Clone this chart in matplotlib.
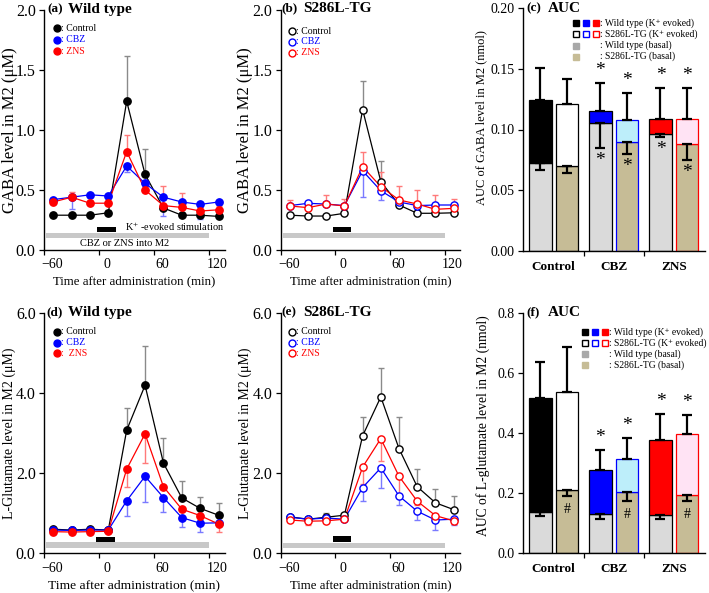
import matplotlib
matplotlib.use("Agg")
import matplotlib.pyplot as plt
from matplotlib.transforms import ScaledTranslation
from matplotlib.patches import Rectangle
import numpy as np

plt.rcParams['font.family'] = ['Liberation Serif', 'DejaVu Serif']
plt.rcParams['mathtext.fontset'] = 'stix'

W, H = 709, 593

# ---------------- data ----------------
times = [-50, -30, -10, 10, 30, 50, 70, 90, 110, 130]
series_names = ["Control", "CBZ", "ZNS"]

# (a) GABA, wild type
gaba_wt_ctrl = [0.29, 0.29, 0.29, 0.31, 1.24, 0.63, 0.35, 0.29, 0.29, 0.28]
gaba_wt_ctrl_err = [0.02, 0.02, 0.02, 0.02, 0.38, 0.21, 0.03, 0.02, 0.02, 0.02]
gaba_wt_cbz = [0.42, 0.44, 0.46, 0.45, 0.70, 0.555, 0.44, 0.40, 0.38, 0.40]
gaba_wt_cbz_err = [0.03, 0.10, 0.02, 0.02, 0.05, 0.03, 0.16, 0.03, 0.12, 0.02]
gaba_wt_zns = [0.40, 0.44, 0.39, 0.39, 0.82, 0.50, 0.37, 0.355, 0.325, 0.335]
gaba_wt_zns_err = [0.02, 0.04, 0.03, 0.02, 0.14, 0.02, 0.16, 0.12, 0.03, 0.03]

# (b) GABA, S286L-TG
gaba_tg_ctrl = [0.29, 0.283, 0.283, 0.306, 1.17, 0.57, 0.375, 0.306, 0.306, 0.31]
gaba_tg_ctrl_err = [0.02, 0.02, 0.02, 0.02, 0.24, 0.17, 0.02, 0.02, 0.02, 0.02]
gaba_tg_cbz = [0.37, 0.389, 0.383, 0.37, 0.66, 0.494, 0.40, 0.37, 0.375, 0.375]
gaba_tg_cbz_err = [0.02, 0.02, 0.02, 0.02, 0.22, 0.08, 0.03, 0.03, 0.03, 0.02]
gaba_tg_zns = [0.367, 0.353, 0.383, 0.367, 0.694, 0.528, 0.417, 0.383, 0.339, 0.347]
gaba_tg_zns_err = [0.05, 0.03, 0.075, 0.06, 0.12, 0.125, 0.12, 0.12, 0.12, 0.08]

# (d) L-glutamate, wild type
glu_wt_ctrl = [0.60, 0.58, 0.60, 0.58, 3.07, 4.19, 2.25, 1.38, 1.12, 0.95]
glu_wt_ctrl_err = [0.03, 0.03, 0.03, 0.03, 0.55, 0.98, 0.63, 0.42, 0.29, 0.31]
glu_wt_cbz = [0.58, 0.57, 0.58, 0.58, 1.31, 1.92, 1.39, 0.89, 0.75, 0.76]
glu_wt_cbz_err = [0.03, 0.03, 0.03, 0.03, 0.37, 0.65, 0.36, 0.23, 0.21, 0.05]
glu_wt_zns = [0.54, 0.53, 0.54, 0.55, 2.10, 2.98, 1.66, 1.10, 0.94, 0.73]
glu_wt_zns_err = [0.03, 0.03, 0.03, 0.03, 0.44, 0.73, 0.05, 0.05, 0.05, 0.19]

# (e) L-glutamate, S286L-TG
glu_tg_ctrl = [0.91, 0.85, 0.90, 0.95, 2.93, 3.90, 2.61, 1.66, 1.26, 1.09]
glu_tg_ctrl_err = [0.03, 0.03, 0.10, 0.03, 0.47, 0.73, 0.80, 0.44, 0.34, 0.34]
glu_tg_cbz = [0.90, 0.85, 0.88, 0.85, 1.64, 2.13, 1.43, 1.05, 0.83, 0.85]
glu_tg_cbz_err = [0.03, 0.03, 0.03, 0.03, 0.34, 0.51, 0.23, 0.22, 0.25, 0.15]
glu_tg_zns = [0.83, 0.80, 0.81, 0.85, 2.15, 2.86, 1.92, 1.30, 0.94, 0.81]
glu_tg_zns_err = [0.05, 0.10, 0.05, 0.03, 0.42, 0.55, 0.50, 0.10, 0.05, 0.08]

# AUC categories
auc_groups = ["Control", "CBZ", "ZNS"]

# (c) AUC GABA
gaba_auc_wt_total = [0.1245, 0.1155, 0.1084]
gaba_auc_wt_total_err = [0.0265, 0.0230, 0.0260]
gaba_auc_wt_basal = [0.0721, 0.1056, 0.0967]
gaba_auc_wt_basal_err = [0.0055, 0.0211, 0.0028]
gaba_auc_tg_total = [0.1210, 0.1075, 0.1084]
gaba_auc_tg_total_err = [0.0205, 0.0222, 0.0260]
gaba_auc_tg_basal = [0.0699, 0.0900, 0.0880]
gaba_auc_tg_basal_err = [0.0053, 0.0104, 0.0131]
gaba_star_top = [[False, False], [True, True], [True, True]]
gaba_star_basal = [[False, False], [True, True], [True, True]]
gaba_hash_basal = [[False, False], [False, False], [False, False]]

# (f) AUC L-glutamate
glu_auc_wt_total = [0.515, 0.277, 0.377]
glu_auc_wt_total_err = [0.122, 0.066, 0.085]
glu_auc_wt_basal = [0.1385, 0.131, 0.127]
glu_auc_wt_basal_err = [0.0135, 0.016, 0.012]
glu_auc_tg_total = [0.535, 0.313, 0.397]
glu_auc_tg_total_err = [0.150, 0.069, 0.063]
glu_auc_tg_basal = [0.209, 0.203, 0.195]
glu_auc_tg_basal_err = [0.017, 0.028, 0.020]
glu_star_top = [[False, False], [True, True], [True, True]]
glu_star_basal = [[False, False], [False, False], [False, False]]
glu_hash_basal = [[False, True], [False, True], [False, True]]

# ---------------- style ----------------
line_colors = ["black", "#0000ff", "#ff0000"]
err_colors = ["#8a8a8a", "#7a7aff", "#ff7a7a"]
wt_evoked_face = ["black", "#0000ff", "#ff0000"]
tg_evoked_face = ["white", "#bdeefa", "#ffe3f4"]
tg_edge = ["black", "#0000ff", "#ff0000"]
wt_basal_face = "#dadada"
tg_basal_face = "#c6bc96"

fig = plt.figure(figsize=(W / 100, H / 100), dpi=100)


def px_axes(left, top, right, bottom):
    return fig.add_axes([left / W, 1 - bottom / H, (right - left) / W, (bottom - top) / H])


def fx(x):
    return x / W


def fy(y):
    return 1 - y / H


def style_axes(ax, xfs=10, yfs=10):
    for s in ["top", "right"]:
        ax.spines[s].set_visible(False)
    for s in ["left", "bottom"]:
        ax.spines[s].set_linewidth(1.0)
    ax.tick_params(direction="out", length=3.5, width=0.9, pad=2.5)
    ax.tick_params(axis="x", labelsize=xfs)
    ax.tick_params(axis="y", labelsize=yfs)


def title(xl, yc, letter, text):
    fig.text(fx(xl), fy(yc), letter, fontsize=9.5, fontweight="bold", ha="left", va="center")
    fig.text(fx(xl + 21), fy(yc), text, fontsize=11, fontweight="bold", ha="left", va="center")


def time_panel(ax, data, errs, dirs, filled, ylim, yticks, yfmt, ylabel, ylabel_x, ylabel_fs,
               xlabel_fs, bar_k, bar_drug, leg_px, leg_labels):
    style_axes(ax, xfs=10, yfs=11.5)
    for i, (y, e, d) in enumerate(zip(data, errs, dirs)):
        y = np.asarray(y)
        e = np.asarray(e)
        lower = e if d == "down" else np.zeros_like(e)
        upper = e if d == "up" else np.zeros_like(e)
        ax.errorbar(times, y, yerr=[lower, upper], fmt="none", ecolor=err_colors[i],
                    elinewidth=1.0, capsize=2.5, capthick=1.0, zorder=2)
    for i, y in enumerate(data):
        mfc = line_colors[i] if filled else "white"
        ax.plot(times, y, "-", color=line_colors[i], lw=0.9, zorder=3 + i)
        ax.plot(times, y, "o", ms=5.3 if filled else 5.2, mfc=mfc, mec=line_colors[i],
                mew=1.0, zorder=6 + i)
    # stimulation / drug bars
    ax.add_patch(Rectangle((bar_drug[0], bar_drug[2]), bar_drug[1] - bar_drug[0],
                           bar_drug[3] - bar_drug[2], color="#c8c8c8", lw=0, zorder=1))
    ax.add_patch(Rectangle((bar_k[0], bar_k[2]), bar_k[1] - bar_k[0],
                           bar_k[3] - bar_k[2], color="black", lw=0, zorder=1))
    ax.set_xlim(-60, 137)
    ax.set_ylim(*ylim)
    ax.set_xticks([-60, 0, 60, 120])
    ax.set_xticklabels(["\u221260", "0", "60", "120"])
    for lab in ax.get_xticklabels():
        lab.set_transform(lab.get_transform() + ScaledTranslation(8 / 100, 0, fig.dpi_scale_trans))
    ax.set_yticks(yticks)
    ax.set_yticklabels([yfmt.format(v) for v in yticks])
    ax.set_xlabel("Time after administration (min)", fontsize=xlabel_fs, labelpad=3)
    ax.set_ylabel(ylabel, fontsize=ylabel_fs)
    ax.yaxis.set_label_coords(ylabel_x, 0.5)
    ax.yaxis.label.set_verticalalignment("center")
    # legend
    lx, ly0, dy = leg_px
    for i, lab in enumerate(leg_labels):
        yy = ly0 + i * dy
        mfc = line_colors[i] if filled else "white"
        fig.lines.append(plt.Line2D([fx(lx)], [fy(yy)], marker="o", ms=5.0, mfc=mfc,
                                    mec=line_colors[i], mew=1.0, transform=fig.transFigure))
        fig.text(fx(lx + 4), fy(yy), lab, color=line_colors[i], fontsize=7,
                 ha="left", va="center")


def auc_panel(ax, wt_tot, wt_tot_err, wt_bas, wt_bas_err, tg_tot, tg_tot_err, tg_bas, tg_bas_err,
              star_top, star_bas, hash_bas, ylim, yticks, yfmt, ylabel, ylabel_xy, ylabel_fs, leg_px):
    style_axes(ax, xfs=10, yfs=10)
    x = np.arange(len(auc_groups))
    off = 0.2225
    w = 0.378
    for g in range(len(auc_groups)):
        # WT
        xw = x[g] - off
        ax.bar(xw, wt_bas[g], w, color=wt_basal_face, edgecolor="black", lw=0.9, zorder=2)
        ax.bar(xw, wt_tot[g] - wt_bas[g], w, bottom=wt_bas[g], color=wt_evoked_face[g],
               edgecolor="black", lw=0.9, zorder=2)
        # TG
        xt = x[g] + off
        ax.bar(xt, tg_bas[g], w, color=tg_basal_face, edgecolor=tg_edge[g], lw=0.9, zorder=2)
        ax.bar(xt, tg_tot[g] - tg_bas[g], w, bottom=tg_bas[g], color=tg_evoked_face[g],
               edgecolor=tg_edge[g], lw=0.9, zorder=2)
        for j, (xx, tot, te, bas, be) in enumerate([(xw, wt_tot[g], wt_tot_err[g], wt_bas[g], wt_bas_err[g]),
                                                     (xt, tg_tot[g], tg_tot_err[g], tg_bas[g], tg_bas_err[g])]):
            ax.errorbar([xx], [tot], yerr=[[0], [te]], fmt="none", ecolor="black", elinewidth=1.6,
                        capsize=3.5, capthick=1.6, zorder=4)
            ax.errorbar([xx], [bas], yerr=[[be], [0]], fmt="none", ecolor="black", elinewidth=1.6,
                        capsize=3.5, capthick=1.6, zorder=4)
            if star_top[g][j]:
                ax.annotate("*", (xx, tot + te), xytext=(0, 3), textcoords="offset points",
                            ha="center", va="bottom", fontsize=14, zorder=5)
            if star_bas[g][j]:
                ax.annotate("*", (xx, bas - be), xytext=(0, -3), textcoords="offset points",
                            ha="center", va="top", fontsize=14, zorder=5)
            if hash_bas[g][j]:
                ax.annotate("#", (xx, bas - be), xytext=(0, -5), textcoords="offset points",
                            ha="center", va="top", fontsize=10, zorder=5)
    ax.set_xlim(-0.517, 2.52)
    ax.set_ylim(*ylim)
    ax.set_xticks([0.5, 1.5])
    ax.set_xticklabels(["", ""])
    for g, name in enumerate(auc_groups):
        ax.text(x[g], -0.065, name, transform=ax.get_xaxis_transform(), ha="center", va="center",
                fontsize=9.5, fontweight="bold")
    ax.set_yticks(yticks)
    ax.set_yticklabels([yfmt.format(v) for v in yticks])
    ax.set_ylabel(ylabel, fontsize=ylabel_fs)
    ax.yaxis.set_label_coords(*ylabel_xy)
    ax.yaxis.label.set_verticalalignment("center")
    # legend
    lx, ly0, dy, tx = leg_px
    rows = [(": Wild type (K\u207a evoked)", [(c, c) for c in wt_evoked_face]),
            (": S286L-TG (K\u207a evoked)", [("white", c) for c in tg_edge]),
            (": Wild type (basal)", [("#a8a8a8", "#a8a8a8")]),
            (": S286L-TG (basal)", [(tg_basal_face, tg_basal_face)])]
    for r, (lab, sq) in enumerate(rows):
        yy = ly0 + r * dy
        for k, (fc, ec) in enumerate(sq):
            fig.lines.append(plt.Line2D([fx(lx + k * 9.8)], [fy(yy)], marker="s", ms=4.3, mfc=fc,
                                        mec=ec, mew=1.0, transform=fig.transFigure))
        fig.text(fx(tx), fy(yy), lab, fontsize=6.9, ha="left", va="center")


# ---------------- panels ----------------
axa = px_axes(44, 10, 225, 250)
time_panel(axa, [gaba_wt_ctrl, gaba_wt_cbz, gaba_wt_zns],
           [gaba_wt_ctrl_err, gaba_wt_cbz_err, gaba_wt_zns_err], ["up", "down", "up"], True,
           (0, 2.0), [0.0, 0.5, 1.0, 1.5, 2.0], "{:.1f}", "GABA level in M2 (\u03bcM)", -0.19, 12,
           9.3, (-2, 18, 0.147, 0.194), (-58, 120, 0.097, 0.139), (56.7, 28.3, 11.4),
           [": Control", ": CBZ", ": ZNS"])
axa.text(28, 0.19, "K$^{+}$ -evoked stimulation", fontsize=7.4, ha="left", va="center")
axa.text(-21, 0.05, "CBZ or ZNS into M2", fontsize=7.5, ha="left", va="center")
title(47, 9, "(a)", "Wild type")

axb = px_axes(280.7, 10, 460, 250)
time_panel(axb, [gaba_tg_ctrl, gaba_tg_cbz, gaba_tg_zns],
           [gaba_tg_ctrl_err, gaba_tg_cbz_err, gaba_tg_zns_err], ["up", "down", "up"], False,
           (0, 2.0), [0.0, 0.5, 1.0, 1.5, 2.0], "{:.1f}", "GABA level in M2 (\u03bcM)", -0.2, 12,
           9.2, (-3, 17, 0.147, 0.194), (-58, 120, 0.097, 0.139), (291.7, 31, 10.8),
           [": Control", ": CBZ", ": ZNS"])
title(281.7, 8.5, "(b)", "S286L-TG")

axc = px_axes(522.7, 8, 705, 251)
auc_panel(axc, gaba_auc_wt_total, gaba_auc_wt_total_err, gaba_auc_wt_basal, gaba_auc_wt_basal_err,
          gaba_auc_tg_total, gaba_auc_tg_total_err, gaba_auc_tg_basal, gaba_auc_tg_basal_err,
          gaba_star_top, gaba_star_basal, gaba_hash_basal, (0, 0.2),
          [0.0, 0.05, 0.10, 0.15, 0.20], "{:.2f}", "AUC of GABA level in M2 (nmol)", (-0.225, 0.55), 9.0,
          (576, 23.3, 11.1, 600))
title(526.7, 8.5, "(c)", "AUC")

axd = px_axes(44, 312.7, 225, 553.3)
time_panel(axd, [glu_wt_ctrl, glu_wt_cbz, glu_wt_zns],
           [glu_wt_ctrl_err, glu_wt_cbz_err, glu_wt_zns_err], ["up", "down", "down"], True,
           (0, 6.0), [0.0, 2.0, 4.0, 6.0], "{:.1f}", "L-Glutamate level in M2 (\u03bcM)", -0.19, 10,
           9.7, (-3, 17, 0.29, 0.41), (-58, 120, 0.14, 0.29), (56.7, 331.7, 10.8),
           [": Control", ": CBZ", ":  ZNS"])
title(46.7, 312.7, "(d)", "Wild type")

axe = px_axes(280.7, 312.7, 460, 553.3)
time_panel(axe, [glu_tg_ctrl, glu_tg_cbz, glu_tg_zns],
           [glu_tg_ctrl_err, glu_tg_cbz_err, glu_tg_zns_err], ["up", "down", "down"], False,
           (0, 6.0), [0.0, 2.0, 4.0, 6.0], "{:.1f}", "L-Glutamate level in M2 (\u03bcM)", -0.2, 10,
           9.2, (-3, 17, 0.29, 0.44), (-58, 120, 0.12, 0.26), (292.3, 331.7, 10.8),
           [": Control", ": CBZ", ": ZNS"])
title(281.7, 312.7, "(e)", "S286L-TG")

axf = px_axes(522.7, 312.7, 705, 553.3)
auc_panel(axf, glu_auc_wt_total, glu_auc_wt_total_err, glu_auc_wt_basal, glu_auc_wt_basal_err,
          glu_auc_tg_total, glu_auc_tg_total_err, glu_auc_tg_basal, glu_auc_tg_basal_err,
          glu_star_top, glu_star_basal, glu_hash_basal, (0, 0.8),
          [0.0, 0.2, 0.4, 0.6, 0.8], "{:.1f}", "AUC of L-glutamate level in M2 (nmol)", (-0.215, 0.53), 9.8,
          (585, 331.7, 11.1, 609))
title(526.7, 312.7, "(f)", "AUC")

fig.savefig("out.png", dpi=100)
